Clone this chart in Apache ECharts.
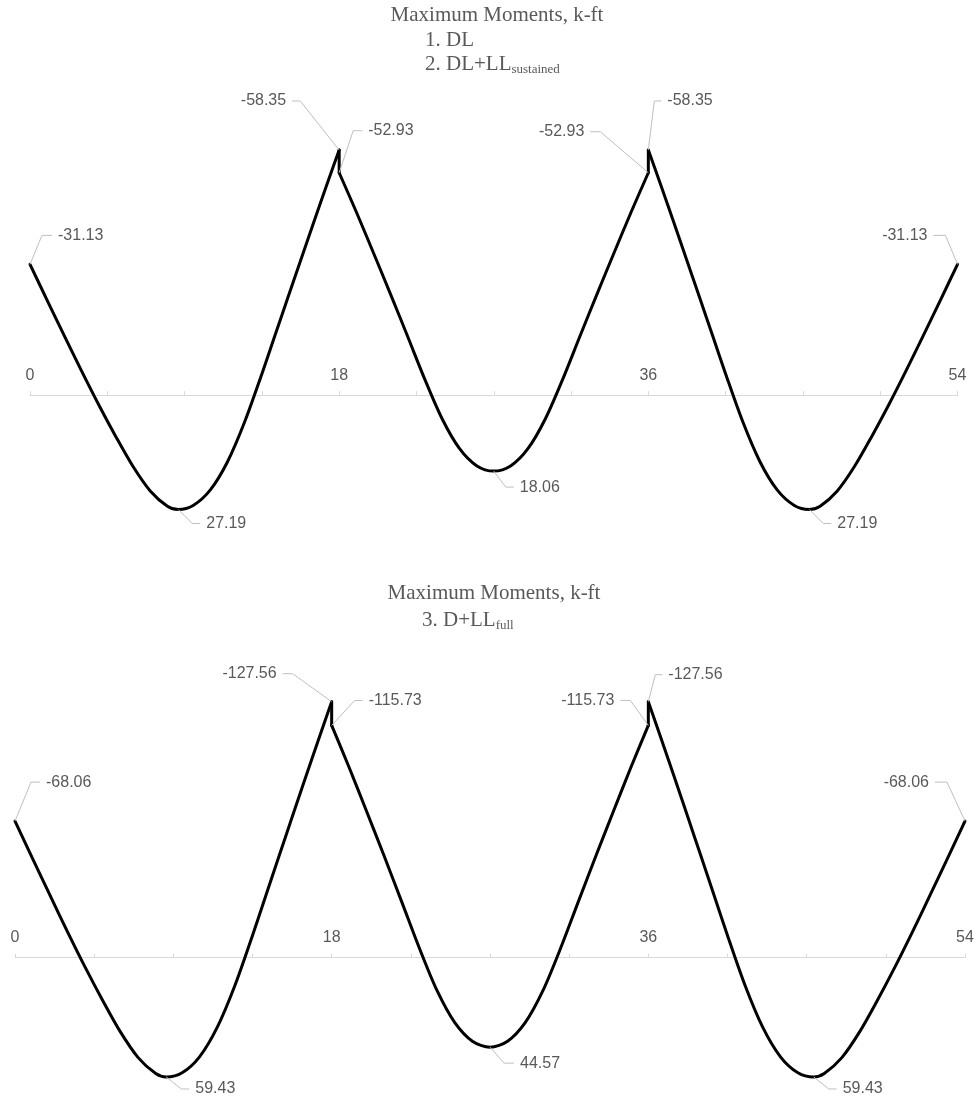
<!DOCTYPE html>
<html><head><meta charset="utf-8">
<script src="https://cdn.jsdelivr.net/npm/echarts@6/dist/echarts.min.js"></script>
<style>html,body{margin:0;padding:0;background:#fff}#c{width:979px;height:1103px}</style>
</head><body><div id="c"></div>
<script>
// ---------- data ----------
const xTickLabels = [0, 18, 36, 54];

// Chart 1: DL / DL+LL sustained  (x in ft, moment in k-ft)
const top1X = [0, 1, 2, 3, 4, 5, 6, 7, 8, 8.63, 9.5, 10.5, 11.5, 12.5, 13.5, 14.25, 15, 15.75, 16.5, 17.25, 18];
const top1M = [-31.13, -22.58, -14.13, -5.78, 2.27, 9.87, 16.97, 22.77, 26.4, 27.19, 26.23, 22.53, 15.83, 6.33, -5.07, -14.07, -23.07, -32.0, -40.92, -49.7, -58.35];
const top2X = [18, 19, 20, 21, 22, 23, 24, 25, 26, 27, 28, 29, 30, 31, 32, 33, 34, 35, 36];
const top2M = [-52.93, -43.59, -33.84, -23.94, -13.84, -3.64, 5.66, 12.66, 16.76, 18.06, 16.76, 12.66, 5.66, -3.64, -13.84, -23.94, -33.84, -43.59, -52.93];
const top3X = [36, 36.75, 37.5, 38.25, 39, 39.75, 40.5, 41.5, 42.5, 43.5, 44.5, 45.37, 46, 47, 48, 49, 50, 51, 52, 53, 54];
const top3M = [-58.35, -49.7, -40.92, -32.0, -23.07, -14.07, -5.07, 6.33, 15.83, 22.53, 26.23, 27.19, 26.4, 22.77, 16.97, 9.87, 2.27, -5.78, -14.13, -22.58, -31.13];
const topJumpAX = [18, 18], topJumpAM = [-58.35, -52.93];
const topJumpBX = [36, 36], topJumpBM = [-52.93, -58.35];
const topLabelX = [0, 18, 18, 8.63, 27, 36, 36, 45.37, 54];
const topLabelV = [-31.13, -58.35, -52.93, 27.19, 18.06, -52.93, -58.35, 27.19, -31.13];

// Chart 2: D+LL full
const bot1X = [0, 1, 2, 3, 4, 5, 6, 7, 8, 8.6, 9.5, 10.5, 11.5, 12.5, 13.5, 14.25, 15, 15.75, 16.5, 17.25, 18];
const bot1M = [-68.06, -49.36, -30.89, -12.64, 4.96, 21.58, 37.1, 49.78, 57.71, 59.43, 57.34, 49.25, 34.6, 13.84, -11.08, -30.76, -50.43, -69.95, -89.45, -108.64, -127.56];
const bot2X = [18, 19, 20, 21, 22, 23, 24, 25, 26, 27, 28, 29, 30, 31, 32, 33, 34, 35, 36];
const bot2M = [-115.73, -94.63, -72.62, -50.27, -27.46, -4.43, 16.57, 32.38, 41.63, 44.57, 41.63, 32.38, 16.57, -4.43, -27.46, -50.27, -72.62, -94.63, -115.73];
const bot3X = [36, 36.75, 37.5, 38.25, 39, 39.75, 40.5, 41.5, 42.5, 43.5, 44.5, 45.4, 46, 47, 48, 49, 50, 51, 52, 53, 54];
const bot3M = [-127.56, -108.64, -89.45, -69.95, -50.43, -30.76, -11.08, 13.84, 34.6, 49.25, 57.34, 59.43, 57.71, 49.78, 37.1, 21.58, 4.96, -12.64, -30.89, -49.36, -68.06];
const botJumpAX = [18, 18], botJumpAM = [-127.56, -115.73];
const botJumpBX = [36, 36], botJumpBM = [-115.73, -127.56];
const botLabelX = [0, 18, 18, 8.6, 27, 36, 36, 45.4, 54];
const botLabelV = [-68.06, -127.56, -115.73, 59.43, 44.57, -115.73, -127.56, 59.43, -68.06];

// ---------- layout (pixel offsets of leader lines) ----------
const topLeader = [
  [12, -29, 22, -29, 'left'], [-39, -49, -47, -49, 'right'], [14, -42, 23, -42, 'left'],
  [14, 14, 22, 14, 'left'], [12, 16, 20, 16, 'left'], [-48, -41, -58, -41, 'right'],
  [6, -49, 13, -49, 'left'], [14, 14, 22, 14, 'left'], [-12, -29, -24, -29, 'right']
];
const botLeader = [
  [16, -39, 25, -39, 'left'], [-39, -28, -49, -28, 'right'], [23, -25, 31, -25, 'left'],
  [15, 12, 23, 12, 'left'], [14, 16, 24, 16, 'left'], [-18, -25, -28, -25, 'right'],
  [7, -27, 14, -27, 'left'], [15, 12, 23, 12, 'left'], [-18, -39, -30, -39, 'right']
];

const GRAY = '#595959';
const SANS = '"Liberation Sans", Arial, sans-serif';
const SERIF = '"Liberation Serif", "Times New Roman", serif';

function pairs(xs, ys) { return xs.map((x, i) => [x, ys[i]]); }

function curve(idx, xs, ys, smooth) {
  return {
    type: 'line', xAxisIndex: idx, yAxisIndex: idx, data: pairs(xs, ys),
    showSymbol: false, symbol: 'none', smooth: smooth ? 0.3 : false,
    clip: false, silent: true, z: 3,
    lineStyle: { color: '#000', width: 3, join: 'round', cap: 'round' }
  };
}

function labels(idx, xs, vs, layout) {
  return {
    type: 'custom', xAxisIndex: idx, yAxisIndex: idx, clip: false, silent: true, z: 5,
    data: xs.map((x, i) => [x, vs[i], i]),
    renderItem: function (params, api) {
      const i = api.value(2);
      const p = api.coord([api.value(0), api.value(1)]);
      const L = layout[i];
      const a = [p[0] + L[0], p[1] + L[1]];
      const b = [p[0] + L[2], p[1] + L[3]];
      const right = L[4] === 'right';
      return {
        type: 'group', children: [
          { type: 'polyline', shape: { points: [p, a, b] }, style: { stroke: '#bfbfbf', lineWidth: 1, fill: 'none' } },
          { type: 'text', x: b[0] + (right ? -6 : 6), y: b[1],
            style: { text: vs[i].toFixed(2), fill: GRAY, font: '16px ' + SANS,
              align: right ? 'right' : 'left', verticalAlign: 'middle',
              textAlign: right ? 'right' : 'left', textVerticalAlign: 'middle' } }
        ]
      };
    }
  };
}

function xAxis(gridIndex) {
  return {
    type: 'value', gridIndex: gridIndex, min: 0, max: 54, interval: 4.5,
    position: 'bottom',
    axisLine: { show: true, onZero: false, lineStyle: { color: '#d9d9d9', width: 1 } },
    axisTick: { show: true, inside: true, length: 4, lineStyle: { color: '#d9d9d9' } },
    splitLine: { show: false },
    axisLabel: {
      show: true, inside: true, margin: 12, color: GRAY, fontFamily: SANS, fontSize: 16,
      showMinLabel: true, showMaxLabel: true,
      formatter: v => (xTickLabels.indexOf(v) >= 0 ? String(v) : '')
    }
  };
}

function yAxis(gridIndex, min, max) {
  return { type: 'value', gridIndex: gridIndex, inverse: true, min: min, max: max, show: false,
    axisLine: { show: false }, splitLine: { show: false } };
}

const TF = 21;
const titleFont = { fontSize: TF, fontFamily: SERIF, fill: GRAY, lineHeight: 24 };
const subFont = { fontSize: 13, fontFamily: SERIF, fill: GRAY, lineHeight: 13, verticalAlign: 'bottom' };

const option = {
  animation: false,
  backgroundColor: '#ffffff',
  grid: [
    { left: 30, top: 100, width: 927.5, height: 295.2 },
    { left: 15, top: 640, width: 950, height: 317.7 }
  ],
  xAxis: [xAxis(0), xAxis(1)],
  yAxis: [yAxis(0, -70.24, 0), yAxis(1, -158.3, 0)],
  graphic: [
    { type: 'text', x: 497, y: 15, style: { text: 'Maximum Moments, k-ft', font: TF + 'px ' + SERIF, fill: GRAY, align: 'center', verticalAlign: 'middle', textAlign: 'center', textVerticalAlign: 'middle' } },
    { type: 'text', x: 425, y: 40, style: { text: '1. DL', font: TF + 'px ' + SERIF, fill: GRAY, align: 'left', verticalAlign: 'middle', textAlign: 'left', textVerticalAlign: 'middle' } },
    { type: 'text', x: 425, y: 64, style: { text: '{m|2. DL+LL}{s|sustained}', fill: GRAY, align: 'left', verticalAlign: 'middle', textAlign: 'left', textVerticalAlign: 'middle',
        rich: { m: titleFont, s: subFont } } },
    { type: 'text', x: 494, y: 593, style: { text: 'Maximum Moments, k-ft', font: TF + 'px ' + SERIF, fill: GRAY, align: 'center', verticalAlign: 'middle', textAlign: 'center', textVerticalAlign: 'middle' } },
    { type: 'text', x: 422, y: 620, style: { text: '{m|3. D+LL}{s|full}', fill: GRAY, align: 'left', verticalAlign: 'middle', textAlign: 'left', textVerticalAlign: 'middle',
        rich: { m: titleFont, s: subFont } } }
  ],
  series: [
    curve(0, top1X, top1M, true), curve(0, top2X, top2M, true), curve(0, top3X, top3M, true),
    curve(0, topJumpAX, topJumpAM, false), curve(0, topJumpBX, topJumpBM, false),
    labels(0, topLabelX, topLabelV, topLeader),
    curve(1, bot1X, bot1M, true), curve(1, bot2X, bot2M, true), curve(1, bot3X, bot3M, true),
    curve(1, botJumpAX, botJumpAM, false), curve(1, botJumpBX, botJumpBM, false),
    labels(1, botLabelX, botLabelV, botLeader)
  ]
};

const chart = echarts.init(document.getElementById('c'));
chart.setOption(option);
</script>
</body></html>
